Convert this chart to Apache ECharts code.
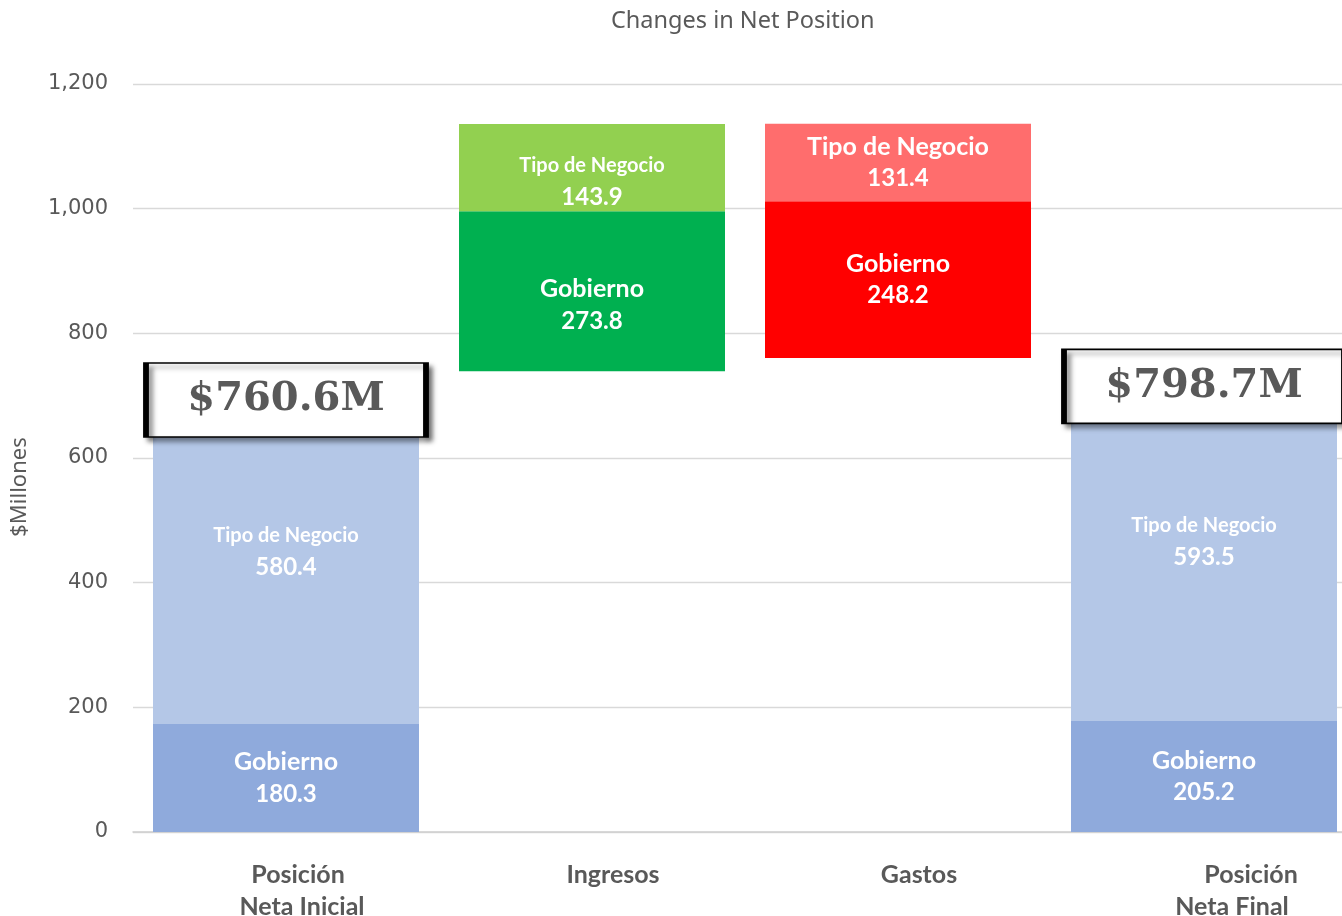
<!DOCTYPE html>
<html>
<head>
<meta charset="utf-8">
<title>Changes in Net Position</title>
<script src="https://cdn.jsdelivr.net/npm/echarts@6/dist/echarts.min.js"></script>
<style>
  html, body { margin: 0; padding: 0; background: #fff; }
  #chart { width: 1342px; height: 916px; }
</style>
</head>
<body>
<div id="chart"></div>
<script>
// datos
const categories = ["Posición\nNeta Inicial", "Ingresos", "Gastos", "Posición\nNeta Final"];
// base invisible de las barras flotantes
const baseValues = [0, 739, 760.4, 0];
const gobiernoValues = [173.3, 256.8, 251.4, 178];
const negocioValues = [560, 140, 124.4, 577];
// textos de las etiquetas
const gobiernoLabels = ["180.3", "273.8", "248.2", "205.2"];
const negocioLabels = ["580.4", "143.9", "131.4", "593.5"];
const totalLabels = ["$760.6M", "", "", "$798.7M"];

// colores por categoria
const gobiernoColors = ["#8faadc", "#00b050", "#ff0000", "#8faadc"];
const negocioColors = ["#b4c7e7", "#92d050", "#ff6d6d", "#b4c7e7"];
const gray = "#595959";

const labelRich = {
  n: { fontFamily: "Lato", fontWeight: "bold", fontSize: 25, color: "#fff", lineHeight: 32 },
  s: { fontFamily: "Lato", fontWeight: "bold", fontSize: 20, color: "#fff", lineHeight: 32 },
  v: { fontFamily: "Lato", fontWeight: "bold", fontSize: 24, color: "#fff", lineHeight: 32 },
};

const myChart = echarts.init(document.getElementById("chart"));

const option = {
  animation: false,
  title: {
    text: "Changes in Net Position",
    left: 606,
    top: 4,
    textStyle: { fontFamily: "Noto Sans", fontWeight: "normal", fontSize: 23.5, color: gray },
  },
  grid: { left: 133, width: 1224, top: 84, bottom: 84, outerBoundsMode: "none", containLabel: false },
  xAxis: {
    type: "category",
    data: categories,
    axisTick: { show: false },
    axisLine: { lineStyle: { color: "#d0d0d0", width: 1.5 } },
    axisLabel: {
      margin: 27,
      interval: 0,
      formatter: (value, index) => {
        const lines = value.split("\n");
        // desplazamientos de cada linea como en el original
        const shifts = [[24, 32], [42], [42], [94, 56]][index];
        return lines.map((l, k) => "{t" + shifts[k] + "|" + l + "}").join("\n");
      },
      rich: (() => {
        const r = {};
        [24, 32, 42, 94, 56].forEach((p) => {
          r["t" + p] = {
            fontFamily: "Lato", fontWeight: "bold", fontSize: 25, color: gray,
            lineHeight: 32, padding: [0, 0, 0, p],
          };
        });
        return r;
      })(),
    },
  },
  yAxis: {
    type: "value",
    min: 0,
    max: 1200,
    interval: 200,
    name: "$Millones",
    nameLocation: "middle",
    nameGap: 102,
    nameTextStyle: { fontFamily: "Noto Sans", fontSize: 22, color: gray, padding: [0, 58, 0, 0] },
    axisLine: { show: false },
    axisTick: { show: false },
    axisLabel: {
      margin: 25,
      fontFamily: "DejaVu Sans",
      fontSize: 21,
      color: gray,
      formatter: (v) => v.toLocaleString("en-US"),
    },
    splitLine: { lineStyle: { color: "#d9d9d9", width: 1.3 } },
  },
  series: [
    {
      name: "base",
      type: "bar",
      stack: "total",
      barWidth: 266,
      itemStyle: { color: "transparent" },
      emphasis: { disabled: true },
      data: baseValues,
    },
    {
      name: "Gobierno",
      type: "bar",
      stack: "total",
      barWidth: 266,
      data: gobiernoValues.map((v, i) => ({
        value: v,
        itemStyle: { color: gobiernoColors[i] },
        label: {
          show: true,
          position: "inside",
          offset: i === 1 ? [0, 14] : [0, 0],
          formatter: "{n|Gobierno}\n{v|" + gobiernoLabels[i] + "}",
          rich: labelRich,
        },
      })),
    },
    {
      name: "Tipo de Negocio",
      type: "bar",
      stack: "total",
      barWidth: 266,
      data: negocioValues.map((v, i) => ({
        value: v,
        itemStyle: { color: negocioColors[i] },
        label: {
          show: true,
          position: "inside",
          offset: i === 1 ? [0, 14] : (i === 0 ? [0, 2] : [0, 0]),
          formatter: "{" + (i === 2 ? "n" : "s") + "|Tipo de Negocio}\n{v|" + negocioLabels[i] + "}",
          rich: labelRich,
        },
      })),
      markPoint: {
        symbol: "rect",
        symbolSize: [280, 74],
        symbolOffset: [0, 25],
        itemStyle: {
          color: "#fff",
          borderColor: "#000",
          borderWidth: 3,
          shadowColor: "rgba(0,0,0,0.45)",
          shadowBlur: 5,
          shadowOffsetX: 4,
          shadowOffsetY: 4,
        },
        label: {
          show: true,
          position: "inside",
          formatter: "{b}",
          fontFamily: "DejaVu Serif",
          fontWeight: "bold",
          fontSize: 40,
          color: gray,
        },
        data: totalLabels
          .map((t, i) => ({
            name: t,
            coord: [i, baseValues[i] + gobiernoValues[i] + negocioValues[i]],
          }))
          .filter((d) => d.name !== ""),
      },
    },
  ],
};

myChart.setOption(option);
window.addEventListener("resize", () => myChart.resize());
</script>
</body>
</html>
